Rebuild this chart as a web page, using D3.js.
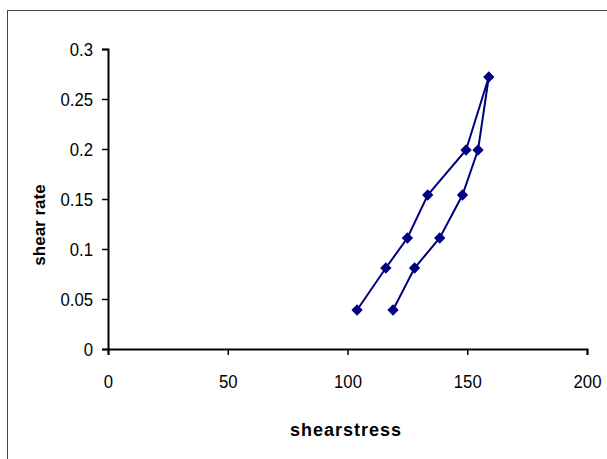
<!DOCTYPE html>
<html>
<head>
 <meta charset="utf-8">
 <title>shear rate vs shearstress</title>
 <script src="https://d3js.org/d3.v7.min.js"></script>
 <style>
   body { margin: 0; background: #fff; }
   svg { display: block; font-family: "Liberation Sans", Arial, sans-serif; }
 </style>
</head>
<body>
 <div id="chart"></div>
 <script>
   // values, in drawing order
   let shearStress = [104, 116, 125, 133.5, 149.5, 159, 154.5, 148, 138.5, 128, 119];
   let shearRate = [0.039, 0.081, 0.111, 0.154, 0.199, 0.272, 0.199, 0.154, 0.111, 0.081, 0.039];
   let xTicks = [0, 50, 100, 150, 200];
   let yTicks = [0, 0.05, 0.1, 0.15, 0.2, 0.25, 0.3];

   let width = 607, height = 459;
   let plotLeft = 108, plotRight = 587, plotTop = 49, plotBottom = 349;

   let svg = d3.select('#chart')
     .append('svg')
     .attr('width', width)
     .attr('height', height);

   // outer chart frame (only left and top edges are in view)
   svg.append('rect')
     .attr('x', 7.5)
     .attr('y', 10.5)
     .attr('width', 700)
     .attr('height', 600)
     .attr('fill', 'none')
     .attr('stroke', '#444')
     .attr('stroke-width', 1);

   let x = d3.scaleLinear().domain([0, 200]).range([plotLeft, plotRight]);
   let y = d3.scaleLinear().domain([0, 0.3]).range([plotBottom, plotTop]);

   let xAxis = svg.append('g')
     .attr('transform', `translate(0,${plotBottom})`)
     .call(d3.axisBottom(x).tickValues(xTicks).tickSize(6).tickPadding(20).tickFormat(d3.format('d')));

   let yAxis = svg.append('g')
     .attr('transform', `translate(${plotLeft},0)`)
     .call(d3.axisLeft(y).tickValues(yTicks).tickSize(6).tickPadding(9).tickFormat(d => String(d)));

   [xAxis, yAxis].forEach(g => {
     g.select('.domain').attr('stroke', '#000').attr('stroke-width', 2);
     g.selectAll('.tick line').attr('stroke', '#000').attr('stroke-width', 1.5);
     g.selectAll('.tick text')
       .attr('fill', '#000')
       .style('font-size', '19px');
   });
   // the tick labels are a little narrow in the reference
   xAxis.selectAll('.tick text').attr('transform', 'scale(0.88,1)');
   yAxis.selectAll('.tick text')
     .attr('x', -15 / 0.88)
     .attr('transform', 'scale(0.88,1)');

   // axis titles
   svg.append('text')
     .attr('x', 346)
     .attr('y', 436)
     .attr('text-anchor', 'middle')
     .style('font-size', '18px')
     .style('font-weight', 'bold')
     .style('letter-spacing', '1px')
     .text('shearstress');

   svg.append('text')
     .attr('transform', 'translate(45,225) rotate(-90)')
     .attr('text-anchor', 'middle')
     .style('font-size', '17px')
     .style('font-weight', 'bold')
     .text('shear rate');

   let points = shearStress.map((s, i) => [s, shearRate[i]]);

   let line = d3.line()
     .x(d => x(d[0]))
     .y(d => y(d[1]));

   svg.append('path')
     .datum(points)
     .attr('d', line)
     .attr('fill', 'none')
     .attr('stroke', '#000080')
     .attr('stroke-width', 2);

   let diamond = d3.symbol().type(d3.symbolSquare).size(64);

   svg.selectAll('path.marker')
     .data(points)
     .enter()
     .append('path')
     .attr('class', 'marker')
     .attr('d', diamond)
     .attr('transform', d => `translate(${x(d[0])},${y(d[1])}) rotate(45)`)
     .attr('fill', '#000080');
 </script>
</body>
</html>
